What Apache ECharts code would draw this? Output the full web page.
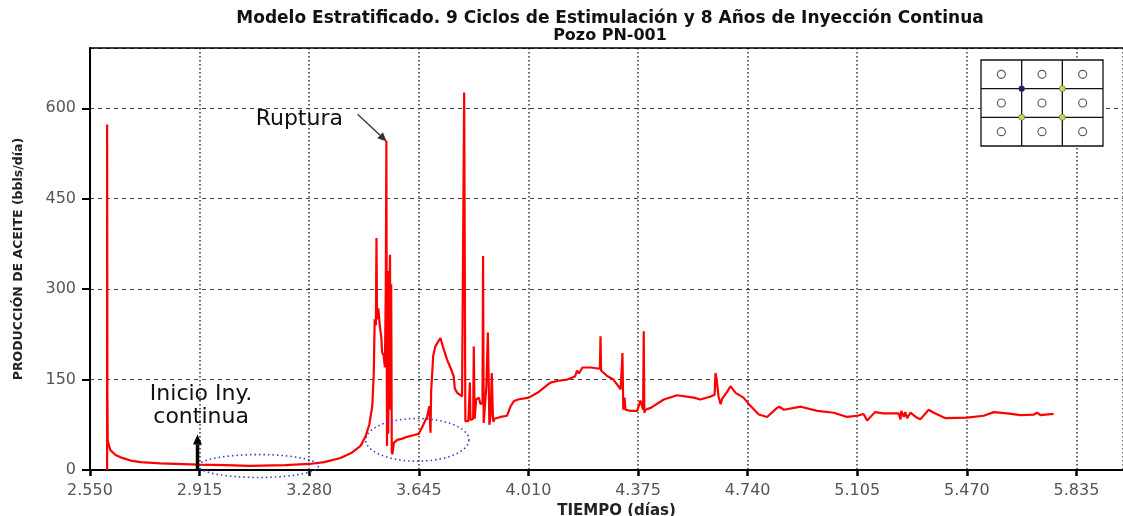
<!DOCTYPE html>
<html>
<head>
<meta charset="utf-8">
<script src="https://cdn.jsdelivr.net/npm/echarts@6/dist/echarts.min.js"></script>
<style>
html,body{margin:0;padding:0;background:#fff;}
#c{width:1123px;height:516px;}
</style>
</head>
<body>
<div id="c"></div>
<script>
// Tiempo (días) y producción de aceite (bbls/día)
const dias = [
2607,2607,2608,2609,2612,2618,2635,2652,2690,2718,2785,2911,3000,3084,3200,3281,3330,3384,3420,3451,
3467,3480,3490,3495,3498,3502,3504,3506,3510,3515,3520,3523,3528,3532,3535,3537,3539,3541,3543,3546,
3549,3551,3553,3555,3557,3562,3573,3590,3606,3630,3645,3660,3673,3680,3684,3686,3693,3700,3717,3725,
3739,3750,3761,3765,3773,3789,3795,3796,3799,3800,3810,3815,3817,3826,3828,3831,3836,3845,3850,3857,
3859,3861,3867,3870,3875,3878,3880,3884,3888,3891,3893,3897,3917,3939,3950,3961,3975,4011,4040,4083,
4110,4139,4165,4172,4178,4190,4217,4248,4250,4252,4272,4293,4317,4322,4323,4326,4330,4333,4350,4372,
4383,4392,4394,4396,4400,4417,4461,4505,4561,4583,4617,4630,4633,4637,4643,4650,4655,4661,4672,4683,
4700,4726,4750,4777,4805,4838,4845,4861,4917,4972,5027,5071,5105,5126,5138,5164,5193,5243,5249,5252,
5260,5265,5271,5282,5300,5315,5343,5360,5399,5471,5526,5560,5604,5649,5693,5704,5715,5759
];
const aceite = [
0,573,120,50,42,33,25,21,15,13,11,9,8,7,8,10,13,20,28,40,
55,75,106,160,250,240,385,250,268,240,220,195,190,170,300,546,40,330,60,260,
357,100,308,30,26,45,50,52,55,58,60,75,89,106,62,130,190,205,219,205,
183,170,156,135,128,122,122,626,626,81,81,145,83,85,205,85,117,120,110,110,
355,78,80,140,228,228,75,90,161,100,80,85,88,90,105,114,117,120,128,145,
148,150,155,165,160,170,170,168,222,165,156,150,134,180,194,100,120,100,98,98,
115,100,230,95,100,103,117,124,120,117,122,125,161,150,122,109,118,115,130,139,
128,120,106,92,88,103,105,100,105,98,95,88,90,93,82,96,94,94,84,98,
88,96,86,95,88,84,100,95,86,87,90,96,94,91,92,95,91,93
];
// Marcas de los ejes
const xTicks = [2550,2915,3280,3645,4010,4375,4740,5105,5470,5835];
const yTicks = [0,150,300,450,600];
// Anotaciones (coordenadas de datos)
const rupturaTexto = [3247, 582];
const rupturaFlecha = [[3441, 590], [3538, 545]];
const inicioTexto = [2920, 106];
const inicioFlecha = [[2908, 0], [2908, 59]];
const elipses = [[3111, 6.6, 200, 19], [3640, 50, 172, 35.4]]; // cx, cy, rx, ry

const chart = echarts.init(document.getElementById('c'));
const fmtX = v => (v / 1000).toFixed(3);
const option = {
  animation: false,
  backgroundColor: '#fff',
  title: {
    text: 'Modelo Estratificado. 9 Ciclos de Estimulación y 8 Años de Inyección Continua',
    subtext: 'Pozo PN-001',
    left: 610, textAlign: 'center', top: 10, padding: 0, itemGap: 1,
    textStyle: {fontFamily: 'DejaVu Sans', fontWeight: 'bold', fontSize: 17, color: '#111'},
    subtextStyle: {fontFamily: 'DejaVu Sans', fontWeight: 'bold', fontSize: 16, color: '#111'}
  },
  grid: {left: 90, right: 0, top: 48, bottom: 46, outerBoundsMode: 'none', containLabel: false},
  xAxis: [{
    type: 'value', min: xTicks[0], max: 5990, interval: xTicks[1] - xTicks[0],
    name: 'TIEMPO (días)', nameLocation: 'middle', nameGap: 28,
    nameTextStyle: {fontFamily: 'DejaVu Sans', fontWeight: 'bold', fontSize: 15, color: '#222', padding: [0, 0, 0, 20]},
    axisLine: {lineStyle: {color: '#000', width: 2}},
    axisTick: {length: 6, lineStyle: {color: '#000', width: 2.5}},
    axisLabel: {formatter: fmtX, showMaxLabel: false, margin: 13,
      fontFamily: 'DejaVu Sans', fontSize: 16, color: '#555'},
    splitLine: {show: true, lineStyle: {color: '#333', width: 1.5, type: [1.5, 2.5]}}
  }, {
    type: 'value', position: 'top', min: xTicks[0], max: 5990,
    axisLine: {show: true, onZero: false, lineStyle: {color: '#000', width: 1.5}},
    axisTick: {show: false}, axisLabel: {show: false}, splitLine: {show: false}
  }],
  yAxis: {
    type: 'value', min: yTicks[0], max: 700, interval: yTicks[1] - yTicks[0],
    name: 'PRODUCCIÓN DE ACEITE (bbls/día)', nameLocation: 'middle', nameGap: 65,
    nameTextStyle: {fontFamily: 'DejaVu Sans', fontWeight: 'bold', fontSize: 12.5, color: '#222'},
    axisLine: {show: true, lineStyle: {color: '#000', width: 2}},
    axisTick: {show: true, length: 8, lineStyle: {color: '#000', width: 2}},
    axisLabel: {showMaxLabel: false, margin: 14, fontFamily: 'DejaVu Sans', fontSize: 16, color: '#555'},
    splitLine: {show: true, lineStyle: {color: '#444', width: 1, type: [4, 4]}}
  },
  series: [{
    type: 'line', xAxisIndex: 0, showSymbol: false, symbol: 'none',
    data: dias.map((d, i) => [d, aceite[i]]),
    lineStyle: {color: '#ff0000', width: 2.2},
    z: 3
  }]
};
chart.setOption(option);

const px = p => chart.convertToPixel({xAxisIndex: 0, yAxisIndex: 0}, p);
const g = [];
// Ruptura
const rt = px(rupturaTexto);
g.push({type: 'text', x: rt[0], y: rt[1], z: 50,
  style: {text: 'Ruptura', fontFamily: 'DejaVu Sans', fontSize: 22, fill: '#111', align: 'center', verticalAlign: 'middle'}});
function arrow(a, b, color, w, head) {
  const dx = b[0] - a[0], dy = b[1] - a[1];
  const L = Math.hypot(dx, dy), ux = dx / L, uy = dy / L;
  const base = [b[0] - ux * head, b[1] - uy * head];
  const nx = -uy * head * 0.45, ny = ux * head * 0.45;
  g.push({type: 'line', z: 50, shape: {x1: a[0], y1: a[1], x2: base[0], y2: base[1]},
    style: {stroke: color, lineWidth: w}});
  g.push({type: 'polygon', z: 50, shape: {points: [b, [base[0] + nx, base[1] + ny], [base[0] - nx, base[1] - ny]]},
    style: {fill: color}});
}
arrow(px(rupturaFlecha[0]), px(rupturaFlecha[1]), '#333', 1.3, 9);
// Inicio Iny. continua
const it = px(inicioTexto);
g.push({type: 'text', x: it[0], y: it[1], z: 50,
  style: {text: 'Inicio Iny.\ncontinua', fontFamily: 'DejaVu Sans', fontSize: 22, lineHeight: 23,
    fill: '#111', align: 'center', verticalAlign: 'middle'}});
arrow(px(inicioFlecha[0]), px(inicioFlecha[1]), '#000', 3.5, 10);
// Elipses
elipses.forEach(e => {
  const c = px([e[0], e[1]]);
  const r = px([e[0] + e[2], e[1] + e[3]]);
  const rx = r[0] - c[0], ry = c[1] - r[1];
  const pts = [];
  for (let k = 0; k < 72; k++) {
    const t = k / 72 * Math.PI * 2;
    pts.push([c[0] + rx * Math.cos(t), c[1] + ry * Math.sin(t)]);
  }
  g.push({type: 'polygon', z: 40, shape: {points: pts},
    style: {fill: 'none', stroke: '#3a3ad8', lineWidth: 1.6, lineDash: [1.5, 3]}});
});
// Inset: malla de pozos
const bx = 981, by = 60, bw = 122, bh = 86;
const inset = [];
inset.push({type: 'rect', shape: {x: bx, y: by, width: bw, height: bh}, style: {fill: '#fff', stroke: '#111', lineWidth: 1.3}});
[1, 2].forEach(k => {
  inset.push({type: 'line', shape: {x1: bx + bw * k / 3, y1: by, x2: bx + bw * k / 3, y2: by + bh}, style: {stroke: '#111', lineWidth: 1.3}});
  inset.push({type: 'line', shape: {x1: bx, y1: by + bh * k / 3, x2: bx + bw, y2: by + bh * k / 3}, style: {stroke: '#111', lineWidth: 1.3}});
});
for (let i = 0; i < 3; i++) for (let j = 0; j < 3; j++) {
  inset.push({type: 'circle', shape: {cx: bx + bw * (i + 0.5) / 3, cy: by + bh * (j + 0.5) / 3, r: 4},
    style: {fill: '#fff', stroke: '#555', lineWidth: 1.1}});
}
const dots = [[1, 1, '#1c1c6a'], [2, 1, '#c9d94a'], [1, 2, '#c9d94a'], [2, 2, '#c9d94a']];
dots.forEach(d => inset.push({type: 'circle', shape: {cx: bx + bw * d[0] / 3, cy: by + bh * d[1] / 3, r: 3},
  style: {fill: d[2], stroke: '#556', lineWidth: 0.6}}));
g.push({type: 'group', z: 60, children: inset});
chart.setOption({graphic: g});
</script>
</body>
</html>
